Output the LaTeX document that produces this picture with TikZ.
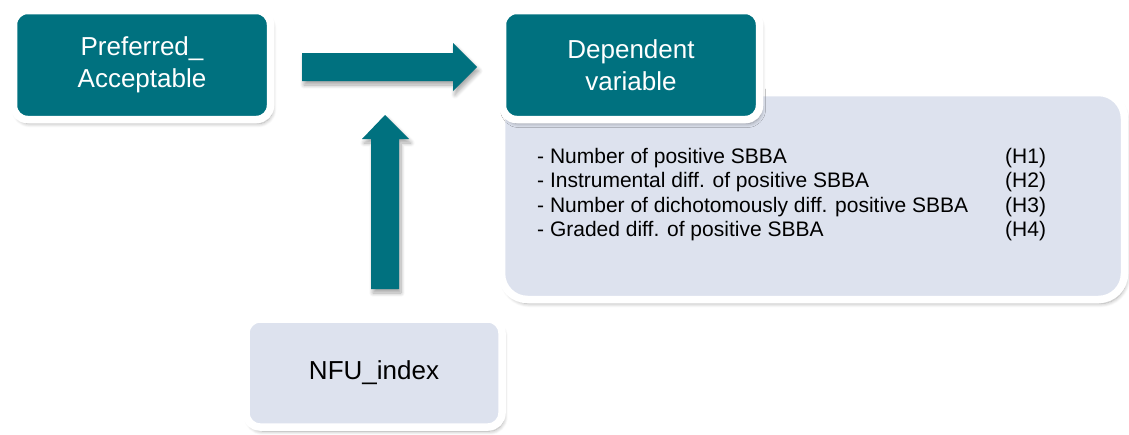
\documentclass[tikz,border=0pt]{standalone}
\usepackage{fontspec}
\setmainfont{Liberation Sans}
\usetikzlibrary{shadows.blur}
\definecolor{tealbox}{RGB}{0,113,127}
\definecolor{paleblue}{RGB}{221,226,238}
\begin{document}
\begin{tikzpicture}[x=1pt,y=-1pt,
  softshadow/.style={blur shadow={shadow xshift=2pt,shadow yshift=-4pt,shadow blur steps=8,shadow blur radius=4pt,shadow opacity=35}},
  framed/.style={draw=white,line width=7.5pt,rounded corners=14pt,softshadow,inner sep=0pt},
  darkbox/.style={framed,fill=tealbox,text=white,align=center,font=\fontsize{26}{32}\selectfont},
  lightbox/.style={framed,fill=paleblue,text=black,align=center,font=\fontsize{26}{32}\selectfont},
  item/.style={anchor=base west,inner sep=0pt,font=\fontsize{21}{24}\selectfont},
  blockarrow/.style={fill=tealbox,draw=none,softshadow}]
  \useasboundingbox (0,0) rectangle (1129,434);

  % list panel behind the dependent-variable box
  \node[lightbox,rounded corners=26pt,minimum width=623pt,minimum height=207pt] (dvpanel) at (813,196) {};

  % the three boxes
  \node[darkbox,minimum width=257pt,minimum height=109pt] (pref) at (142,65) {Preferred\_\\Acceptable};
  \node[darkbox,minimum width=257pt,minimum height=109pt] (dv) at (631,65) {Dependent\\variable};
  \node[lightbox,minimum width=256pt,minimum height=108pt] (nfu) at (374,373) {NFU\_index};

  % hypotheses listed in the panel
  \node[item] (l1) at (537,163) {- Number of positive SBBA};
  \node[item] (l2) at (537,187.5) {- Instrumental diff. of positive SBBA};
  \node[item] (l3) at (537,212) {- Number of dichotomously diff. positive SBBA};
  \node[item] (l4) at (537,236.5) {- Graded diff. of positive SBBA};
  \node[item] (h1) at (1005,163) {(H1)};
  \node[item] (h2) at (1005,187.5) {(H2)};
  \node[item] (h3) at (1005,212) {(H3)};
  \node[item] (h4) at (1005,236.5) {(H4)};

  % block arrows
  \path[blockarrow] (302,53) -- (453,53) -- (453,43) -- (477,67) -- (453,91) -- (453,81) -- (302,81) -- cycle;
  \path[blockarrow] (371,289) -- (371,139) -- (362,139) -- (385,115) -- (409,139) -- (399,139) -- (399,289) -- cycle;
\end{tikzpicture}
\end{document}
